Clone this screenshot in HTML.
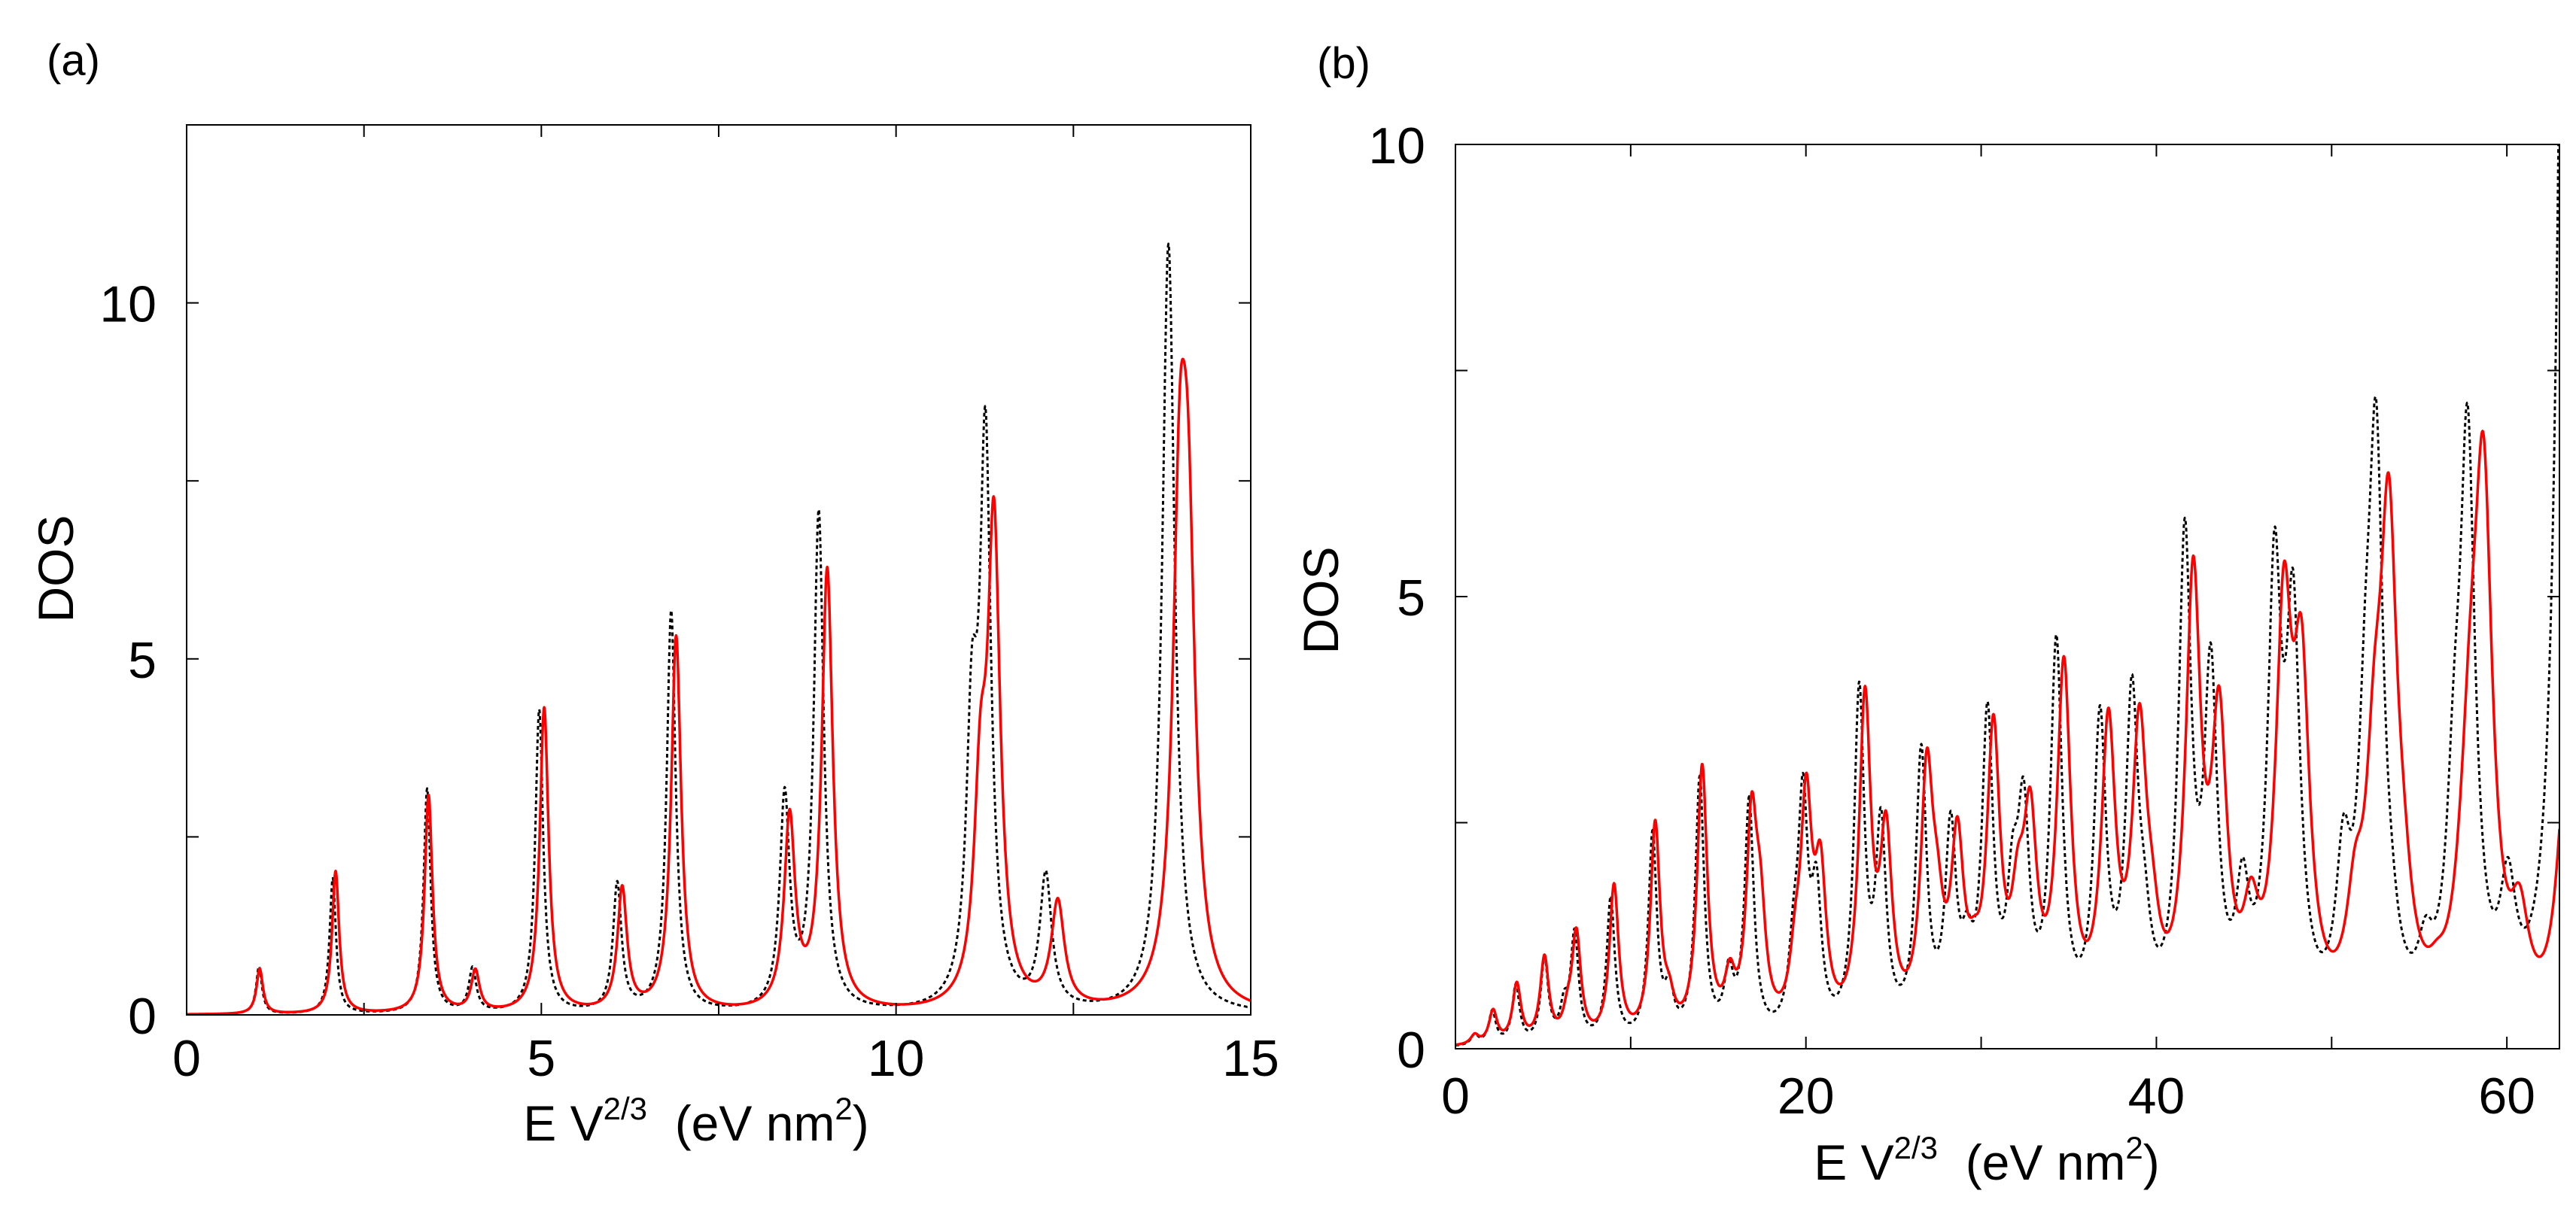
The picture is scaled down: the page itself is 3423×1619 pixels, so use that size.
<!DOCTYPE html>
<html><head><meta charset="utf-8"><style>
html,body{margin:0;padding:0;background:#fff}
svg{display:block}
text{font-family:"Liberation Sans",sans-serif;fill:#000}
</style></head><body>
<svg id="fig" width="3423" height="1619" viewBox="0 0 3423 1619" xmlns="http://www.w3.org/2000/svg">
<defs>
<clipPath id="clipA"><rect x="248" y="166" width="1414" height="1183"/></clipPath>
<clipPath id="clipB"><rect x="1934" y="192" width="1467" height="1202"/></clipPath>
</defs>
<g id="panelA"></g>
<g id="panelB"></g>
</svg>
<script>
// Panel (a) data: peak positions and target heights
const aBlackX = [1.02,2.06,3.39,4.03,4.97,6.07,6.83,8.43,8.91,11.07,11.26,12.11,13.84];
const aBlackY = [0.68,1.92,3.18,0.68,4.29,1.88,5.68,3.2,7.1,5.19,8.54,2.03,10.83];
const aRedX = [1.03,2.10,3.41,4.07,5.04,6.14,6.90,8.50,9.03,11.19,11.38,12.28,14.0,14.12];
const aRedY = [0.65,2.02,3.09,0.65,4.32,1.82,5.33,2.89,6.29,4.29,7.27,1.64,8.8,8.4];
const aXTicks = [0,5,10,15];
const aYTicks = [0,5,10];
// Panel (b) data
const bBlackX = [1.1,2.1,3.45,5.08,6.2,6.8,8.86,11.25,12.2,13.94,15.6,16.76,19.3,19.83,20.6,23.04,24.28,26.58,28.26,29.2,30.36,31.8,32.42,34.29,36.78,38.6,39.3,41.62,41.95,43.1,44.92,46.74,47.8,48.6,50.67,51.92,52.54,53.4,55.36,57.0,57.76,60.06,63.3];
const bBlackY = [0.17,0.43,0.72,1.02,0.65,1.33,1.69,2.42,0.83,3.02,1.0,2.79,1.69,3.05,2.05,4.06,2.67,3.37,2.63,1.53,3.84,2.39,3.0,4.58,3.8,4.14,2.16,5.87,3.54,4.49,2.12,5.76,5.3,1.47,2.59,5.03,7.18,2.45,1.47,4.27,7.13,2.12,14];
const bRedX = [1.1,2.15,3.5,5.08,6.4,6.9,9.05,11.4,12.2,14.08,15.66,16.9,17.4,19.4,20.02,20.83,23.37,24.57,26.9,27.5,28.64,29.6,30.7,32.1,32.8,34.72,37.26,39.03,39.75,42.1,43.58,45.4,47.27,48.28,51.34,52.44,53.26,54.1,56.0,57.5,57.95,58.67,60.73,63.4];
const bRedY = [0.17,0.44,0.74,1.04,0.67,1.34,1.83,2.53,0.83,3.15,1.0,2.83,2.1,1.6,3.05,2.29,4.01,2.63,3.32,2.25,2.57,1.47,3.7,2.25,2.89,4.34,3.77,3.82,2.2,5.45,4.01,1.9,5.37,4.77,2.25,4.36,6.36,2.98,1.21,3.32,4.96,6.79,1.82,3.2];
const bXTicks = [0,20,40,60];
const bYTicks = [0,5,10];

const NS = "http://www.w3.org/2000/svg";
function mk(tag, attrs, parent){
  const e = document.createElementNS(NS, tag);
  for (const k in attrs) e.setAttribute(k, attrs[k]);
  parent.appendChild(e); return e;
}
function solveAmps(xs, hs, gfun){
  const n = xs.length; const A = hs.slice();
  const L = (x, x0, g) => g*g/((x-x0)*(x-x0)+g*g);
  for (let it=0; it<80; it++){
    for (let i=0;i<n;i++){
      let s=0; for (let j=0;j<n;j++) s += A[j]*L(xs[i], xs[j], gfun(xs[j]));
      A[i] = Math.max(0.02, A[i] + 0.6*(hs[i]-s));
    }
  }
  return x => { let s=0; for (let j=0;j<n;j++) s += A[j]*L(x, xs[j], gfun(xs[j])); return s; };
}
function panel(cfg){
  const g = document.getElementById(cfg.id);
  const sx = v => cfg.x0 + (v-cfg.xmin)/(cfg.xmax-cfg.xmin)*(cfg.x1-cfg.x0);
  const sy = v => cfg.y1 - (v-cfg.ymin)/(cfg.ymax-cfg.ymin)*(cfg.y1-cfg.y0);
  const cg = mk('g', {'clip-path':'url(#'+cfg.clip+')'}, g);
  
  
  cfg.series.forEach(s => {
    const f = solveAmps(s.xs, s.ys, s.g);
    let d = '';
    const N = 3000;
    for (let i=0;i<=N;i++){
      const x = cfg.xmin + (cfg.xmax-cfg.xmin)*i/N;
      d += (i?'L':'M') + sx(x).toFixed(1) + ',' + sy(f(x)).toFixed(1);
    }
    const p = mk('path', {d:d, fill:'none', stroke:s.color, 'stroke-width':s.w, 'stroke-dasharray':s.dash||'none', 'stroke-linejoin':'round'}, cg);
    
    
  });
  const fr = mk('rect', {x:cfg.x0, y:cfg.y0, width:cfg.x1-cfg.x0, height:cfg.y1-cfg.y0, fill:'none', stroke:'#000', 'stroke-width':2}, g);
  
  
  const tl = 16;
  for (let v=cfg.xmin; v<=cfg.xmax+1e-9; v+=cfg.xminor){
    const X = sx(v);
    mk('line', {x1:X, y1:cfg.y1, x2:X, y2:cfg.y1-tl, stroke:'#000','stroke-width':2}, g);
    mk('line', {x1:X, y1:cfg.y0, x2:X, y2:cfg.y0+tl, stroke:'#000','stroke-width':2}, g);
  }
  for (let v=cfg.ymin; v<=cfg.ymax+1e-9; v+=cfg.yminor){
    const Y = sy(v);
    mk('line', {x1:cfg.x0, y1:Y, x2:cfg.x0+tl, y2:Y, stroke:'#000','stroke-width':2}, g);
    mk('line', {x1:cfg.x1, y1:Y, x2:cfg.x1-tl, y2:Y, stroke:'#000','stroke-width':2}, g);
  }
  cfg.xt.forEach(v => {
    const t = mk('text', {x:sx(v), y:cfg.xlabY, 'font-size':68, 'text-anchor':'middle'}, g);
    t.textContent = v;
    
    
  });
  cfg.yt.forEach(v => {
    const t = mk('text', {x:cfg.ylabX, y:sy(v)+25, 'font-size':68, 'text-anchor':'end'}, g);
    t.textContent = v;
    
    
  });
  const xt = mk('text', {x:cfg.xtitleX, y:cfg.xtitleY, 'font-size':66, 'text-anchor':'middle'}, g);
  xt.innerHTML = 'E V<tspan font-size="42" dy="-28">2/3</tspan><tspan dy="28" xml:space="preserve">  (eV nm</tspan><tspan font-size="42" dy="-28">2</tspan><tspan dy="28">)</tspan>';
  
  
  const yt = mk('text', {x:cfg.ytitleX, y:cfg.ytitleY, 'font-size':66, 'text-anchor':'middle', transform:'rotate(-90 '+cfg.ytitleX+' '+cfg.ytitleY+')'}, g);
  yt.textContent = 'DOS';
  
  
  const pl = mk('text', {x:cfg.plX, y:cfg.plY, 'font-size':58}, g);
  pl.textContent = cfg.pl;
  
  
}
panel({id:'panelA', clip:'clipA', x0:248, x1:1662, y0:166, y1:1349, xmin:0, xmax:15, ymin:0, ymax:12.5,
  xminor:2.5, yminor:2.5, xt:aXTicks, yt:aYTicks, xlabY:1430, ylabX:208,
  xtitleX:925, xtitleY:1516, ytitleX:97, ytitleY:756, plX:62, plY:100, pl:'(a)',
  series:[
    {name:'series-black-dotted', xs:aBlackX, ys:aBlackY, g:x=>0.045+0.0045*x, color:'#000', w:3, dash:'5 4'},
    {name:'series-red-solid', xs:aRedX, ys:aRedY, g:x=>0.05+0.005*x, color:'#f00', w:3.5}
  ]});
panel({id:'panelB', clip:'clipB', x0:1934, x1:3401, y0:192, y1:1394, xmin:0, xmax:63, ymin:0, ymax:10,
  xminor:10, yminor:2.5, xt:bXTicks, yt:bYTicks, xlabY:1480, ylabX:1894,
  xtitleX:2640, xtitleY:1568, ytitleX:1778, ytitleY:798, plX:1750, plY:104, pl:'(b)',
  series:[
    {name:'series-black-dotted', xs:bBlackX, ys:bBlackY, g:x=>0.24+0.005*x, color:'#000', w:3, dash:'5 4'},
    {name:'series-red-solid', xs:bRedX, ys:bRedY, g:x=>0.27+0.006*x, color:'#f00', w:3.5}
  ]});
</script>
</body></html>
